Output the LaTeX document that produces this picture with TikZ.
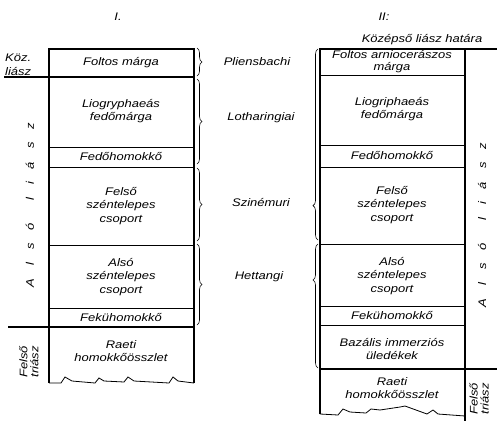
\documentclass[tikz,border=0pt]{standalone}
\usepackage{fontspec}
\setmainfont{Liberation Sans}[FakeStretch=1.18]
\usetikzlibrary{decorations.pathreplacing}
\begin{document}
\begin{tikzpicture}[x=1pt,y=-1pt,
  lay/.style={font=\itshape\fontsize{11}{13.5}\selectfont, align=center, inner sep=0pt},
  frame/.style={line width=1.1pt},
  thin/.style={line width=0.8pt},
  brc/.style={decorate, decoration={brace, amplitude=5pt}, line width=0.6pt},
  brca/.style={decorate, decoration={brace, amplitude=5pt, aspect=#1}, line width=0.6pt}]
\useasboundingbox (0,0) rectangle (497,421);

% ---------- left column ----------
\draw[frame] (49,383) -- (49,49) -- (194,49) -- (194,383);
\draw[frame] (4,77) -- (194,77);
\draw[thin] (49,147) -- (194,147);
\draw[thin] (49,167) -- (194,167);
\draw[thin] (49,245) -- (194,245);
\draw[thin] (49,308) -- (194,308);
\draw[frame] (8,327) -- (194,327);
\draw[thin] (49,383) -- (61,383) -- (65,377) -- (72,381) -- (95,383) -- (99,378) -- (104,381)
  -- (124,382) -- (128,377) -- (134,381) -- (169,383) -- (173,377) -- (178,381) -- (194,383);

\node[lay] (numI) at (118,17) {I.};
\node[lay] (l1) at (121,63) {Foltos márga};
\node[lay] (l2) at (121,111) {Liogryphaeás\\fedőmárga};
\node[lay] (l3) at (121,157) {Fedőhomokkő};
\node[lay] (l4) at (121,206) {Felső\\széntelepes\\csoport};
\node[lay] (l5) at (121,277) {Alsó\\széntelepes\\csoport};
\node[lay] (l6) at (121,317) {Fekühomokkő};
\node[lay] (l7) at (121,351) {Raeti\\homokkőösszlet};

\node[lay, align=left, anchor=south west] (kozl) at (5,75.5) {Köz.\\liász};
\node[lay, rotate=90] (alsoL) at (30,205)
  {A\hspace{13pt}l\hspace{13pt}s\hspace{13pt}ó\hspace{22pt}l\hspace{13pt}i\hspace{13pt}á\hspace{13pt}s\hspace{13pt}z};
\node[lay, rotate=90, font=\itshape\fontsize{11}{11}\selectfont] (felsoL) at (29,362) {Felső\\triász};

% ---------- stages ----------
\draw[brc] (197,48) -- (197,76);
\draw[brc] (197,79) -- (197,164);
\draw[brc] (197,168) -- (197,241);
\draw[brc] (197,244) -- (197,325);
\node[lay] (s1) at (257,62) {Pliensbachi};
\node[lay] (s2) at (261,118) {Lotharingiai};
\node[lay] (s3) at (261,202) {Szinémuri};
\node[lay] (s4) at (259,277) {Hettangi};

% ---------- right column ----------
\draw[frame] (320,414) -- (320,49) -- (497,49);
\draw[frame] (465,49) -- (465,421);
\draw[thin] (320,75) -- (465,75);
\draw[thin] (320,145) -- (465,145);
\draw[thin] (320,167) -- (465,167);
\draw[thin] (320,244) -- (465,244);
\draw[thin] (320,306) -- (465,306);
\draw[thin] (320,325) -- (465,325);
\draw[frame] (320,369) -- (497,369);
\draw[thin] (320,414) -- (338,415) -- (343,409) -- (350,412) -- (366,413) -- (371,409) -- (380,410)
  -- (400,407) -- (405,406) -- (427,414) -- (433,410) -- (438,414) -- (465,416);

\draw[brca=0.18] (318,240) -- (318,49);
\draw[brca=0.71] (318,368) -- (318,244);

\node[lay] (numII) at (384,17) {II:};
\node[lay] (hatar) at (422,40) {Középső liász határa};
\node[lay, font=\itshape\fontsize{11}{12}\selectfont] (r1) at (392,62) {Foltos arniocerászos\\márga};
\node[lay] (r2) at (392,109) {Liogriphaeás\\fedőmárga};
\node[lay] (r3) at (392,156) {Fedőhomokkő};
\node[lay] (r4) at (392,205) {Felső\\széntelepes\\csoport};
\node[lay] (r5) at (392,276) {Alsó\\széntelepes\\csoport};
\node[lay] (r6) at (392,315) {Fekühomokkő};
\node[lay] (r7) at (392,349) {Bazális immerziós\\üledékek};
\node[lay] (r8) at (392,388) {Raeti\\homokkőösszlet};

\node[lay, rotate=90] (alsoR) at (482,225)
  {A\hspace{13pt}l\hspace{13pt}s\hspace{13pt}ó\hspace{22pt}l\hspace{13pt}i\hspace{13pt}á\hspace{13pt}s\hspace{13pt}z};
\node[lay, rotate=90, font=\itshape\fontsize{11}{11}\selectfont] (felsoR) at (479,399) {Felső\\triász};
\end{tikzpicture}
\end{document}
